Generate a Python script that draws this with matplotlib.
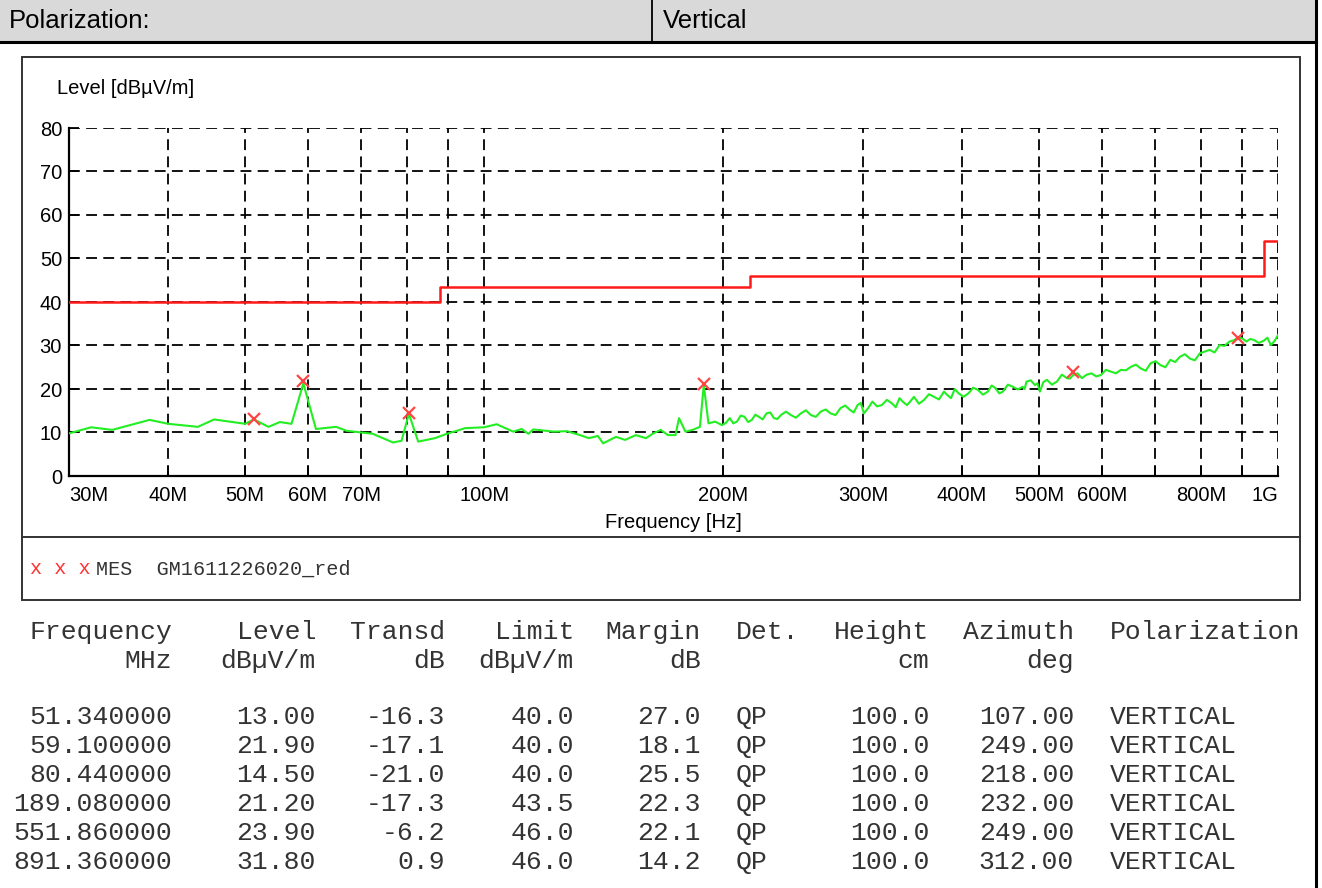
import matplotlib
matplotlib.use("Agg")
import matplotlib.pyplot as plt
from matplotlib.lines import Line2D
from matplotlib.patches import Rectangle
from matplotlib.ticker import FixedLocator, NullFormatter

W, H = 1322, 888

# scan trace, MHz / dBuV/m
trace_freq = [30.0, 32.0, 34.0, 37.9, 40.0, 43.6, 45.7, 50.0, 51.3, 53.5,
              55.3, 57.2, 59.2, 61.4, 65.1, 67.1, 72.4, 76.8, 78.7, 80.4,
              82.6, 86.7, 90.1, 93.2, 94.6, 100.0, 103.7, 108.8, 111.5, 113.7,
              115.3, 118.3, 122.3, 127.2, 132.1, 135.5, 139.1, 141.2, 146.6, 150.5,
              155.3, 159.9, 163.4, 166.9, 170.4, 174.2, 176.0, 179.3, 183.1, 187.0,
              189.1, 191.7, 195.4,
              199.4, 201.6, 203.9, 206.0, 208.2, 210.5, 212.8, 215.1, 217.4, 219.6,
              221.9, 224.3, 226.8, 229.3, 231.8, 234.1, 236.5, 240.0, 243.5, 247.0,
              250.6, 254.3, 258.0, 261.7, 265.5, 269.3, 273.1, 277.1, 281.1, 285.0,
              288.9, 292.1, 295.4, 298.1, 300.9, 304.6, 308.4, 312.6, 316.9, 321.6,
              326.4, 330.0, 333.6, 337.2, 340.9, 344.4, 347.9, 353.0, 358.2, 363.4,
              368.7, 374.1, 379.5, 383.4, 387.3, 391.6, 396.0, 401.7, 407.4, 413.1,
              418.8, 424.9, 431.1, 435.9, 440.7, 445.5, 450.3, 456.9, 463.6, 470.2,
              476.8, 479.5, 482.2, 488.1, 494.1, 497.7, 501.3, 506.4, 511.6, 519.1,
              526.6, 534.3, 542.0, 546.9, 551.9, 559.0, 566.2, 574.2, 582.3, 590.2,
              598.2, 607.0, 615.9, 625.0, 634.0, 643.3, 652.7, 662.2, 671.9, 681.4,
              691.0, 700.9, 710.9, 721.3, 731.8, 742.1, 752.4, 763.3, 774.4, 785.7,
              797.2, 808.7, 820.2, 832.0, 843.9, 856.1, 868.5, 879.9, 891.4, 902.0,
              912.8, 922.5, 932.2, 945.9, 959.7, 969.6, 979.6, 989.7, 1000.0]
trace_level = [9.8, 11.2, 10.6, 12.9, 12.0, 11.3, 13.0, 12.0, 13.0, 11.3,
               12.4, 12.0, 21.3, 10.8, 11.3, 10.4, 9.7, 7.7, 8.1, 14.3,
               7.9, 8.7, 9.8, 10.6, 11.0, 11.2, 11.9, 10.2, 10.8, 9.7,
               10.7, 10.5, 10.2, 10.3, 9.4, 8.7, 9.2, 7.5, 9.0, 8.3,
               9.4, 8.7, 9.8, 10.6, 9.4, 9.4, 13.3, 10.2, 10.6, 11.3,
               20.9, 12.1, 12.5,
               11.7, 12.2, 13.3, 12.1, 12.5, 13.9, 13.6, 12.4, 12.9, 14.1,
               13.6, 13.0, 14.4, 14.6, 13.3, 13.1, 14.0, 14.8, 14.0, 13.4,
               14.4, 15.1, 14.0, 13.6, 14.8, 15.3, 14.4, 14.0, 15.6, 16.2,
               15.2, 14.6, 16.3, 16.8, 14.4, 15.6, 17.1, 16.0, 16.3, 17.5,
               16.7, 15.8, 17.9, 17.0, 16.3, 17.2, 18.2, 16.6, 17.5, 18.8,
               18.2, 17.6, 19.4, 18.6, 17.9, 20.0, 19.0, 18.2, 19.0, 20.3,
               19.8, 18.7, 19.4, 20.8, 20.2, 19.0, 19.4, 21.0, 20.5, 19.9,
               20.5, 20.0, 21.7, 22.0, 20.9, 21.3, 19.4, 21.6, 22.1, 21.0,
               21.7, 23.3, 22.5, 22.4, 23.2, 23.6, 22.5, 23.3, 23.6, 22.9,
               23.2, 24.4, 24.0, 23.6, 24.4, 24.3, 25.1, 25.6, 24.7, 24.2,
               25.9, 26.4, 25.5, 25.0, 26.7, 26.2, 27.4, 28.0, 27.0, 26.6,
               28.2, 28.6, 29.0, 28.4, 30.1, 29.9, 30.9, 31.2, 31.9, 31.6,
               30.9, 31.5, 31.3, 30.6, 31.1, 31.8, 30.1, 31.0, 32.4]

# limit line (steps)
limit_freq = [30, 88, 216, 960, 1000]
limit_level = [40, 43.5, 46, 54, 54]

# final measurements
mes_freq = [51.34, 59.10, 80.44, 189.08, 551.86, 891.36]
mes_level = [13.00, 21.90, 14.50, 21.20, 23.90, 31.80]
mes_transd = [-16.3, -17.1, -21.0, -17.3, -6.2, 0.9]
mes_limit = [40.0, 40.0, 40.0, 43.5, 46.0, 46.0]
mes_margin = [27.0, 18.1, 25.5, 22.3, 22.1, 14.2]
mes_det = ["QP"] * 6
mes_height = [100.0] * 6
mes_azimuth = [107.00, 249.00, 218.00, 232.00, 249.00, 312.00]
mes_pol = ["VERTICAL"] * 6

xtick_vals = [30, 40, 50, 60, 70, 100, 200, 300, 400, 500, 600, 800, 1000]
xtick_labels = ["30M", "40M", "50M", "60M", "70M", "100M", "200M", "300M",
                "400M", "500M", "600M", "800M", "1G"]
xgrid_minor = [80, 90, 700, 900]
ytick_vals = [0, 10, 20, 30, 40, 50, 60, 70, 80]

SANS = "Liberation Sans"
MONO = "Liberation Mono"


def fx(px):
    return px / W


def fy(py):
    return 1 - py / H


fig = plt.figure(figsize=(W / 100, H / 100), dpi=100)
fig.patch.set_facecolor("white")

# header band
fig.add_artist(Rectangle((0, fy(42)), fx(1316), 42 / H, transform=fig.transFigure,
                         facecolor="#d9d9d9", edgecolor="none"))
fig.add_artist(Line2D([0, fx(1316)], [fy(42), fy(42)], color="black", lw=2.2))
fig.add_artist(Line2D([fx(652), fx(652)], [fy(0), fy(42)], color="black", lw=1.3))
fig.add_artist(Line2D([fx(1316), fx(1316)], [0, 1], color="black", lw=2.2))
fig.text(fx(9), fy(21), "Polarization:", family=SANS, fontsize=18.5, va="center")
fig.text(fx(663), fy(21), "Vertical", family=SANS, fontsize=18.5, va="center")

# plot frame and legend separator
fig.add_artist(Rectangle((fx(22), fy(600)), fx(1300) - fx(22), fy(57) - fy(600),
                         transform=fig.transFigure, fill=False,
                         edgecolor="#333333", lw=1.4))
fig.add_artist(Line2D([fx(22), fx(1300)], [fy(537), fy(537)], color="#333333", lw=1.4))

ax = fig.add_axes([fx(69), fy(476), fx(1278) - fx(69), fy(128) - fy(476)])
ax.set_xscale("log")
ax.set_xlim(30, 1000)
ax.set_ylim(0, 80)

ax.plot(limit_freq, limit_level, drawstyle="steps-post", color="#ff1a1a", lw=1.8, zorder=3)
ax.plot(trace_freq, trace_level, color="#22ee22", lw=1.5, zorder=4)
ax.plot(mes_freq, mes_level, linestyle="none", marker="x", color="#ff4444",
        markersize=8, markeredgewidth=1.6, zorder=5)

ax.xaxis.set_major_locator(FixedLocator(xtick_vals))
ax.xaxis.set_minor_locator(FixedLocator(xgrid_minor))
ax.xaxis.set_minor_formatter(NullFormatter())
ax.set_xticks(xtick_vals, xtick_labels)
ax.set_yticks(ytick_vals)

ax.tick_params(axis="both", which="both", direction="in", length=7, width=1.3,
               colors="black", labelsize=14.5)
ax.tick_params(axis="x", pad=7)
ax.tick_params(axis="y", pad=5)
for lbl in ax.get_xticklabels() + ax.get_yticklabels():
    lbl.set_family(SANS)
xl = ax.get_xticklabels()
xl[0].set_ha("left")
xl[-1].set_ha("right")

ax.grid(True, which="both", color="black", linestyle=(0, (6, 3.5)), lw=1.3)
for s in ["top", "right"]:
    ax.spines[s].set_visible(False)
for s in ["left", "bottom"]:
    ax.spines[s].set_linewidth(1.6)
    ax.spines[s].set_color("black")

fig.text(fx(57), fy(89), "Level [dBµV/m]", family=SANS, fontsize=14.5, va="center")
fig.text(fx(673), fy(522), "Frequency [Hz]", family=SANS, fontsize=14.5,
         ha="center", va="center")

# legend row
fig.text(fx(30), fy(569), "x x x", family=MONO, fontsize=14.5, color="#ff3333", va="center")
fig.text(fx(96), fy(569), "MES  GM1611226020_red", family=MONO, fontsize=14.5,
         color="#333333", va="center")

# measurement table
tcol = "#333333"
tfs = 19
head_y1, head_y2 = 632, 661
row_y0, row_dy = 717, 28.9

right_cols = [
    (172, "Frequency", "MHz", ["%.6f" % v for v in mes_freq]),
    (316, "Level", "dBµV/m", ["%.2f" % v for v in mes_level]),
    (445, "Transd", "dB", ["%.1f" % v for v in mes_transd]),
    (574, "Limit", "dBµV/m", ["%.1f" % v for v in mes_limit]),
    (701, "Margin", "dB", ["%.1f" % v for v in mes_margin]),
    (929, "Height", "cm", ["%.1f" % v for v in mes_height]),
    (1074, "Azimuth", "deg", ["%.2f" % v for v in mes_azimuth]),
]
left_cols = [
    (736, "Det.", "", mes_det),
    (1110, "Polarization", "", mes_pol),
]

for xpos, h1, h2, vals in right_cols:
    fig.text(fx(xpos), fy(head_y1), h1, family=MONO, fontsize=tfs, color=tcol,
             ha="right", va="center")
    fig.text(fx(xpos), fy(head_y2), h2, family=MONO, fontsize=tfs, color=tcol,
             ha="right", va="center")
    for i, v in enumerate(vals):
        fig.text(fx(xpos), fy(row_y0 + i * row_dy), v, family=MONO, fontsize=tfs,
                 color=tcol, ha="right", va="center")

for xpos, h1, h2, vals in left_cols:
    fig.text(fx(xpos), fy(head_y1), h1, family=MONO, fontsize=tfs, color=tcol,
             ha="left", va="center")
    for i, v in enumerate(vals):
        fig.text(fx(xpos), fy(row_y0 + i * row_dy), v, family=MONO, fontsize=tfs,
                 color=tcol, ha="left", va="center")

fig.savefig("out.png", dpi=100)
